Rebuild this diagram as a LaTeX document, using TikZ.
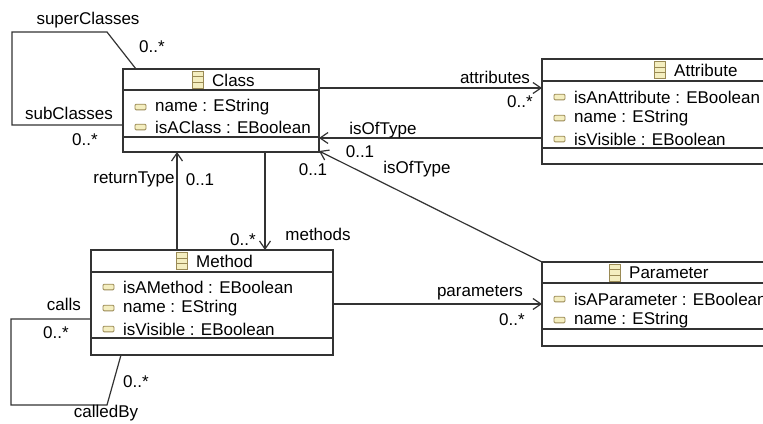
\documentclass[tikz,border=0pt]{standalone}
\usepackage{fontspec}
\setmainfont{Liberation Sans}
\usetikzlibrary{arrows.meta,calc}
\definecolor{lc}{HTML}{333333}
\definecolor{icf}{HTML}{F4EEC0}
\definecolor{icd}{HTML}{9A8A55}
\tikzset{
  box/.style={draw=lc,line width=1.2pt,fill=white,rectangle,anchor=north west,inner sep=0pt,outer sep=0pt},
  txt/.style={font=\fontsize{17}{19}\selectfont,inner sep=0pt,text=black},
  lbl/.style={txt},
  row/.style={txt,anchor=west},
  conn/.style={draw=lc,line width=1.2pt},
  nav/.style={conn,-{Straight Barb[length=8pt,width=11pt,line width=1.2pt]}},
  aicon/.pic={\draw[icd,fill=icf,line width=0.9pt,rounded corners=1pt] (0,-2.8) rectangle (11,2.8);},
  cicon/.pic={\draw[icd,fill=icf,line width=0.9pt] (0,-8.5) rectangle (11,8.5);
              \draw[icd,line width=0.9pt] (0,-2.8) -- (11,-2.8) (0,2.8) -- (11,2.8);}
}
\newcommand{\compart}[4]{% node name, header offset, attr offset, width
  \draw[lc,line width=1.2pt] ($(#1.north west)+(0,#2)$) -- ++(#4,0);
  \draw[lc,line width=1.2pt] ($(#1.north west)+(0,#3)$) -- ++(#4,0);
}
\newcommand{\arow}[4]{% name, x, y, text
  \pic at (#2+12,#3) {aicon};
  \node[row] (#1) at (#2+32,#3) {#4};
}
\begin{document}
\begin{tikzpicture}[x=1pt,y=-1pt]
\useasboundingbox (0,0) rectangle (763,423);
\clip (0,0) rectangle (763,423);
\fill[white] (0,0) rectangle (763,423);

% boxes
\node[box,minimum width=196pt,minimum height=83pt] (cls) at (123,69) {};
\node[box,minimum width=240pt,minimum height=105pt] (att) at (542,59) {};
\node[box,minimum width=242pt,minimum height=105pt] (met) at (91,250) {};
\node[box,minimum width=240pt,minimum height=84pt] (par) at (542,262) {};

\compart{cls}{21}{68}{196}
\compart{att}{22}{89}{240}
\compart{met}{22}{88}{242}
\compart{par}{21}{67}{240}

% titles
\pic at (192,79.5) {cicon};
\node[txt,anchor=west] (tcls) at (212,80) {Class};
\pic at (654,70) {cicon};
\node[txt,anchor=west] (tatt) at (674,70.5) {Attribute};
\pic at (176,261) {cicon};
\node[txt,anchor=west] (tmet) at (196,261.5) {Method};
\pic at (609,272.5) {cicon};
\node[txt,anchor=west] (tpar) at (629,273) {Parameter};

% attributes
\arow{c1}{123}{107}{name : EString}
\arow{c2}{123}{127}{isAClass : EBoolean}
\arow{a1}{542}{97}{isAnAttribute : EBoolean}
\arow{a2}{542}{118}{name : EString}
\arow{a3}{542}{139}{isVisible : EBoolean}
\arow{m1}{91}{287}{isAMethod : EBoolean}
\arow{m2}{91}{308}{name : EString}
\arow{m3}{91}{329}{isVisible : EBoolean}
\arow{p1}{542}{299}{isAParameter : EBoolean}
\arow{p2}{542}{320}{name : EString}

% superClasses / subClasses loop
\draw[conn] ($(cls.north west)+(13,0)$) -- (107,32) -- (12,32) -- (12,125) -- (cls.west |- 0,125);
\node[lbl] (lsup) at (88,20) {superClasses};
\node[lbl] (msup) at (152,47) {0..*};
\node[lbl] (lsub) at (69,113) {subClasses};
\node[lbl] (msub) at (85,140) {0..*};

% calls / calledBy loop
\draw[conn] (met.west |- 0,319) -- (11,319) -- (11,405) -- (107,405) -- ($(met.south west)+(30,0)$);
\node[lbl] (lcalls) at (64,304) {calls};
\node[lbl] (mcalls) at (56,333) {0..*};
\node[lbl] (mcby) at (136,382) {0..*};
\node[lbl] (lcby) at (106,413) {calledBy};

% attributes
\draw[nav] (cls.east |- 0,88) -- (att.west |- 0,88);
\node[lbl] (lattr) at (495,77) {attributes};
\node[lbl] (mattr) at (520,102) {0..*};

% isOfType (Attribute -> Class)
\draw[nav] (att.west |- 0,138) -- (cls.east |- 0,138);
\node[lbl] (lot1) at (383,130) {isOfType};
\node[lbl] (mot1) at (360,152) {0..1};

% isOfType (Parameter -> Class)
\draw[nav] (par.north west) -- ($(cls.south east)+(0,-1)$);
\node[lbl] (lot2) at (417,169) {isOfType};
\node[lbl] (mot2) at (313,170) {0..1};

% methods
\draw[nav] (cls.south -| 265,0) -- (met.north -| 265,0);
\node[lbl] (mmeth) at (243,240) {0..*};
\node[lbl] (lmeth) at (318,234) {methods};

% returnType
\draw[nav] (met.north -| 177,0) -- (cls.south -| 177,0);
\node[lbl] (lret) at (134,179) {returnType};
\node[lbl] (mret) at (200,180) {0..1};

% parameters
\draw[nav] (met.east |- 0,304) -- (par.west |- 0,304);
\node[lbl] (lpar) at (480,293) {parameters};
\node[lbl] (mpar) at (512,320) {0..*};
\end{tikzpicture}
\end{document}
